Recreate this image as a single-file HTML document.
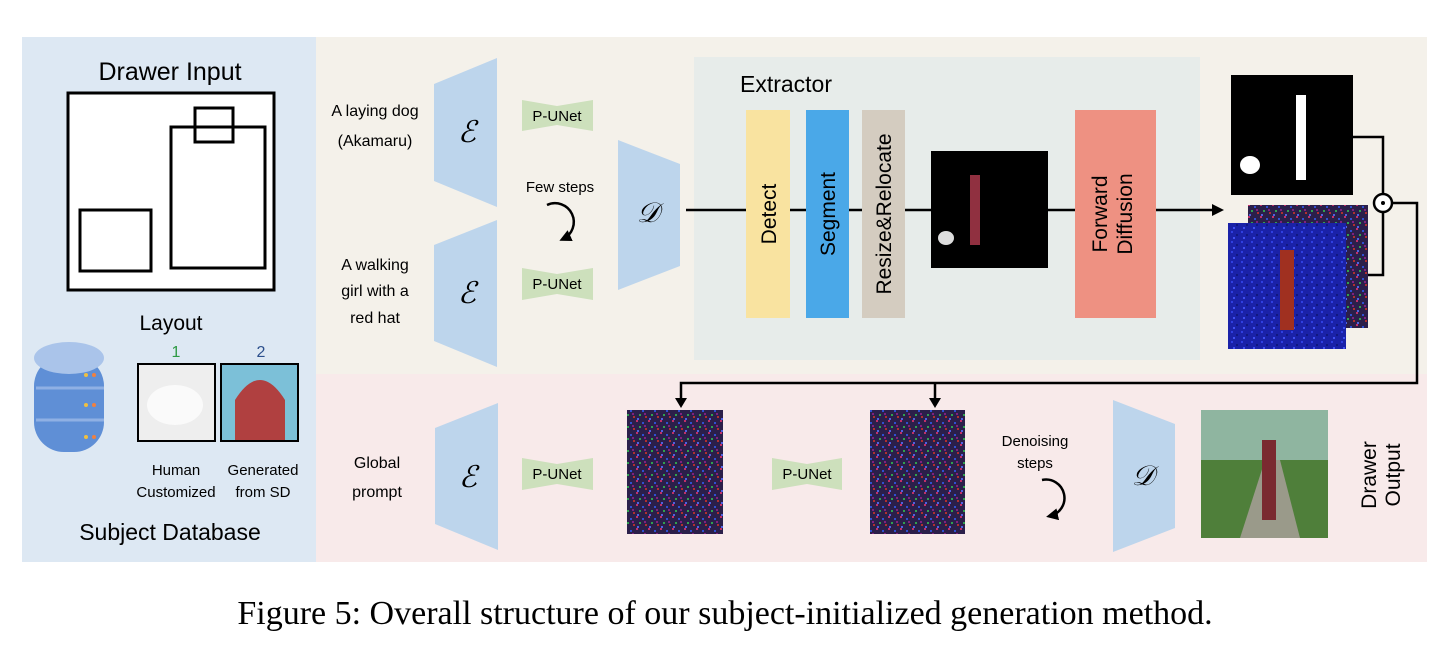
<!DOCTYPE html>
<html><head><meta charset="utf-8"><style>
html,body{margin:0;padding:0;background:#fff;}
svg text{font-family:"Liberation Sans",sans-serif;}
</style></head><body>
<svg width="1456" height="666" viewBox="0 0 1456 666" xmlns="http://www.w3.org/2000/svg">
<defs>
<pattern id="noise" width="12" height="12" patternUnits="userSpaceOnUse">
<rect width="12" height="12" fill="#2b1f4a"/>
<rect x="0" y="0" width="2" height="2" fill="#c0306a"/><rect x="6" y="2" width="2" height="2" fill="#3050d0"/>
<rect x="3" y="6" width="2" height="2" fill="#30a050"/><rect x="9" y="8" width="2" height="2" fill="#b03030"/>
<rect x="1" y="10" width="2" height="2" fill="#5060e0"/><rect x="8" y="5" width="2" height="2" fill="#802080"/>
</pattern>
<pattern id="bnoise" width="10" height="10" patternUnits="userSpaceOnUse">
<rect width="10" height="10" fill="#1a22a8"/>
<rect x="1" y="1" width="2" height="2" fill="#3040e0"/><rect x="6" y="4" width="2" height="2" fill="#101880"/>
<rect x="3" y="7" width="2" height="2" fill="#4050f0"/>
</pattern>
<marker id="ah" markerWidth="12" markerHeight="12" refX="8" refY="6" orient="auto" markerUnits="userSpaceOnUse"><path d="M0,0 L12,6 L0,12 z" fill="#000"/></marker>
</defs>

<rect x="22" y="37" width="294" height="525" fill="#dde8f3"/>
<rect x="316" y="37" width="1111" height="337" fill="#f4f1ea"/>
<rect x="316" y="374" width="1111" height="188" fill="#f8eaea"/>
<rect x="694" y="57" width="506" height="303" fill="#e7ecea"/>

<text x="170" y="80" font-size="25" text-anchor="middle">Drawer Input</text>
<g fill="none" stroke="#000" stroke-width="3">
<rect x="68" y="93" width="206" height="197" fill="#fff"/>
<rect x="171" y="127" width="94" height="141"/>
<rect x="195" y="108" width="38" height="34"/>
<rect x="80" y="210" width="71" height="61"/>
</g>
<text x="171" y="330" font-size="21" text-anchor="middle">Layout</text>
<g>
<rect x="34" y="356" width="70" height="96" rx="30" fill="#5f8fd6"/>
<ellipse cx="69" cy="358" rx="35" ry="16" fill="#aac4ea"/>
<line x1="36" y1="388" x2="104" y2="388" stroke="#8fb0e4" stroke-width="3"/>
<line x1="36" y1="420" x2="104" y2="420" stroke="#8fb0e4" stroke-width="3"/>
<circle cx="86" cy="375" r="2" fill="#f0c040"/><circle cx="94" cy="375" r="2" fill="#f08040"/>
<circle cx="86" cy="405" r="2" fill="#f0c040"/><circle cx="94" cy="405" r="2" fill="#f08040"/>
<circle cx="86" cy="437" r="2" fill="#f0c040"/><circle cx="94" cy="437" r="2" fill="#f08040"/>
</g>
<text x="176" y="357" font-size="16" fill="#2e9a44" text-anchor="middle">1</text>
<text x="261" y="357" font-size="16" fill="#2c4f8c" text-anchor="middle">2</text>
<rect x="138" y="364" width="77" height="77" fill="#eeeeee" stroke="#000" stroke-width="2"/>
<ellipse cx="175" cy="405" rx="28" ry="20" fill="#fafafa"/>
<rect x="221" y="364" width="77" height="77" fill="#7cc0d8" stroke="#000" stroke-width="2"/>
<path d="M235,400 q25,-40 50,0 v40 h-50z" fill="#b04040"/>
<text x="176" y="475" font-size="15" text-anchor="middle">Human</text>
<text x="176" y="497" font-size="15" text-anchor="middle">Customized</text>
<text x="263" y="475" font-size="15" text-anchor="middle">Generated</text>
<text x="263" y="497" font-size="15" text-anchor="middle">from SD</text>
<text x="170" y="540" font-size="23" text-anchor="middle">Subject Database</text>

<g font-size="16" text-anchor="middle">
<text x="375" y="116">A laying dog</text>
<text x="375" y="146">(Akamaru)</text>
<text x="375" y="270">A walking</text>
<text x="375" y="296">girl with a</text>
<text x="375" y="323">red hat</text>
<text x="377" y="468">Global</text>
<text x="377" y="497">prompt</text>
</g>

<g fill="#bdd5ec">
<polygon points="434,84 497,58 497,207 434,181"/>
<polygon points="434,245 497,220 497,367 434,341"/>
<polygon points="435,428 498,403 498,550 435,524"/>
</g>
<g font-size="30" font-style="italic" text-anchor="middle">
<text x="467" y="142" style="font-family:'Liberation Serif',serif">ℰ</text>
<text x="467" y="303" style="font-family:'Liberation Serif',serif">ℰ</text>
<text x="468" y="487" style="font-family:'Liberation Serif',serif">ℰ</text>
</g>

<g fill="#cde0bc">
<polygon points="522,100 557,106 593,100 593,131 557,125 522,131"/>
<polygon points="522,268 557,274 593,268 593,300 557,294 522,300"/>
<polygon points="522,458 557,464 593,458 593,490 557,484 522,490"/>
<polygon points="772,458 807,464 842,458 842,490 807,484 772,490"/>
</g>
<g font-size="15" text-anchor="middle">
<text x="557" y="121">P-UNet</text>
<text x="557" y="289">P-UNet</text>
<text x="557" y="479">P-UNet</text>
<text x="807" y="479">P-UNet</text>
</g>
<text x="560" y="192" font-size="15" text-anchor="middle">Few steps</text>
<path d="M547,205 a18,18 0 1 1 16,34" fill="none" stroke="#000" stroke-width="2.5" marker-end="url(#ah)"/>

<polygon points="618,140 680,164 680,266 618,290" fill="#bdd5ec"/>
<text x="648" y="222" font-size="28" font-style="italic" text-anchor="middle" style="font-family:'Liberation Serif',serif">𝒟</text>

<line x1="686" y1="210" x2="1220" y2="210" stroke="#000" stroke-width="2.5" marker-end="url(#ah)"/>

<text x="786" y="92" font-size="23" text-anchor="middle">Extractor</text>
<rect x="746" y="110" width="44" height="208" fill="#f9e3a0"/>
<rect x="806" y="110" width="43" height="208" fill="#4aa8e8"/>
<rect x="862" y="110" width="43" height="208" fill="#d4ccc0"/>
<rect x="1075" y="110" width="81" height="208" fill="#ee9182"/>
<g font-size="21" text-anchor="middle">
<text transform="translate(776,214) rotate(-90)">Detect</text>
<text transform="translate(835,214) rotate(-90)">Segment</text>
<text transform="translate(891,214) rotate(-90)">Resize&amp;Relocate</text>
<text transform="translate(1107,214) rotate(-90)">Forward</text>
<text transform="translate(1132,214) rotate(-90)">Diffusion</text>
</g>
<rect x="931" y="151" width="117" height="117" fill="#000"/>
<rect x="970" y="175" width="10" height="70" fill="#903040"/>
<ellipse cx="946" cy="238" rx="8" ry="7" fill="#ddd"/>

<rect x="1231" y="75" width="122" height="120" fill="#000"/>
<rect x="1296" y="95" width="10" height="85" fill="#fff"/>
<ellipse cx="1250" cy="165" rx="10" ry="9" fill="#fff"/>
<rect x="1248" y="205" width="120" height="123" fill="url(#noise)"/>
<rect x="1228" y="223" width="118" height="126" fill="url(#bnoise)"/>
<rect x="1280" y="250" width="14" height="80" fill="#a03020"/>
<g fill="none" stroke="#000" stroke-width="2.5">
<polyline points="1353,137 1383,137 1383,194"/>
<polyline points="1368,275 1383,275 1383,212"/>
<polyline points="1392,203 1417,203 1417,383 681,383 681,402"/>
<line x1="935" y1="383" x2="935" y2="402"/>
</g>
<path d="M675,398 L681,408 L687,398z M929,398 L935,408 L941,398z" fill="#000"/>
<circle cx="1383" cy="203" r="9" fill="#fff" stroke="#000" stroke-width="2.5"/>
<circle cx="1383" cy="203" r="2" fill="#000"/>

<rect x="627" y="410" width="96" height="124" fill="url(#noise)"/>
<rect x="870" y="410" width="95" height="124" fill="url(#noise)"/>
<text x="1035" y="446" font-size="15" text-anchor="middle">Denoising</text>
<text x="1035" y="468" font-size="15" text-anchor="middle">steps</text>
<path d="M1042,480 a18,18 0 1 1 8,36" fill="none" stroke="#000" stroke-width="2.5" marker-end="url(#ah)"/>
<polygon points="1113,400 1175,424 1175,528 1113,552" fill="#bdd5ec"/>
<text x="1143" y="485" font-size="28" font-style="italic" text-anchor="middle" style="font-family:'Liberation Serif',serif">𝒟</text>
<rect x="1201" y="410" width="127" height="128" fill="#4f7f3a"/>
<rect x="1201" y="410" width="127" height="50" fill="#8fb5a0"/>
<path d="M1240,538 L1265,460 L1280,460 L1300,538z" fill="#9a9a8a"/>
<rect x="1262" y="440" width="14" height="80" fill="#7a2a30"/>
<g font-size="21" text-anchor="middle">
<text transform="translate(1376,475) rotate(-90)">Drawer</text>
<text transform="translate(1400,475) rotate(-90)">Output</text>
</g>

<text x="725" y="624" font-size="34" text-anchor="middle" style="font-family:'Liberation Serif',serif">Figure 5: Overall structure of our subject-initialized generation method.</text>
</svg>
</body></html>
